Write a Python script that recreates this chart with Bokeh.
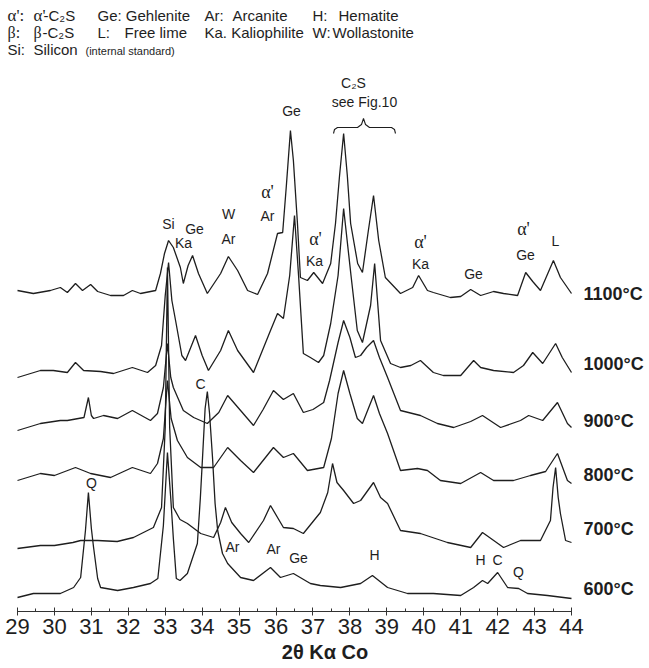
from bokeh.plotting import figure
from bokeh.models import Range1d, Label, SingleIntervalTicker
from bokeh.embed import file_html
from bokeh.resources import INLINE

# ---------------- data ----------------
temperatures = ["1100°C", "1000°C", "900°C", "800°C", "700°C", "600°C"]
offsets = [316, 236, 184, 128, 64, 13]   # vertical stacking offsets (a.u.)

two_theta_1100 = [29.00, 29.43, 29.89, 30.16, 30.35, 30.57, 30.76, 30.98, 31.17, 31.52,
                  31.87, 32.11, 32.33, 32.74, 32.87, 32.98, 33.09, 33.22, 33.41, 33.49,
                  33.62, 33.74, 33.90, 34.14, 34.50, 34.71, 34.96, 35.23, 35.50, 35.77,
                  36.04, 36.18, 36.28, 36.39, 36.47, 36.58, 36.66, 36.85, 37.02, 37.26,
                  37.48, 37.61, 37.72, 37.83, 37.93, 38.02, 38.21, 38.34, 38.50, 38.64,
                  38.78, 38.96, 39.37, 39.70, 39.86, 40.10, 40.26, 40.72, 41.00, 41.27,
                  41.54, 41.89, 42.16, 42.54, 42.76, 42.95, 43.16, 43.51, 43.70, 44.00]
counts_1100 = [5, 2, 5, 8, 3, 12, 5, 11, 4, 0,
               0, 5, 2, 5, 22, 42, 55, 48, 28, 12,
               30, 40, 22, 2, 22, 39, 25, 5, 1, 22,
               62, 63, 110, 165, 135, 72, 18, 15, 23, 12,
               32, 72, 120, 162, 120, 72, 32, 23, 65, 100,
               55, 18, 2, 8, 20, 5, 3, -2, -1, 6,
               0, 4, 2, 0, 23, 14, 5, 35, 18, 2]

two_theta_1000 = [29.00, 29.62, 29.97, 30.35, 30.57, 30.79, 31.25, 31.60, 32.11, 32.52,
                  32.74, 32.90, 33.00, 33.09, 33.18, 33.28, 33.45, 33.55, 33.82, 34.00,
                  34.17, 34.50, 34.71, 34.96, 35.39, 35.85, 36.04, 36.20, 36.37, 36.50,
                  36.61, 36.74, 36.93, 37.15, 37.29, 37.48, 37.68, 37.83, 38.03, 38.20,
                  38.34, 38.56, 38.67, 38.83, 39.10, 39.37, 39.65, 39.91, 40.26, 40.53,
                  41.00, 41.35, 41.54, 41.89, 42.43, 42.70, 42.95, 43.22, 43.57, 43.75,
                  44.00]
counts_1000 = [-2, 5, 5, 3, 13, 5, 4, 2, 8, 3,
               10, 30, 80, 113, 75, 55, 20, 15, 40, 20,
               5, 25, 45, 25, 3, 45, 62, 57, 100, 160,
               100, 22, 18, 13, 20, 52, 100, 167, 100, 45,
               33, 70, 112, 35, 12, 8, 10, 15, 3, 0,
               0, 15, 8, 5, 3, 10, 23, 12, 32, 18,
               3]

two_theta_900 = [29.00, 29.62, 30.16, 30.35, 30.80, 30.92, 31.00, 31.06, 31.33, 31.71,
                 32.11, 32.60, 32.79, 32.95, 33.06, 33.15, 33.22, 33.49, 33.77, 34.14,
                 34.45, 34.69, 35.04, 35.39, 35.65, 35.93, 36.20, 36.47, 36.74, 37.00,
                 37.29, 37.45, 37.68, 37.83, 38.00, 38.15, 38.29, 38.45, 38.64, 38.80,
                 39.02, 39.37, 39.91, 40.37, 40.81, 41.27, 41.59, 42.08, 42.62, 42.84,
                 43.22, 43.62, 43.89, 44.00]
counts_900 = [-3, 4, 7, 7, 10, 30, 12, 9, 12, 9,
              17, 7, 14, 40, 84, 50, 40, 17, 10, 4,
              15, 32, 17, 2, 18, 37, 28, 34, 15, 18,
              25, 47, 85, 107, 90, 70, 72, 80, 87, 70,
              50, 17, 12, 4, 0, 6, 12, 0, 7, 12,
              7, 25, 4, 0]

two_theta_800 = [29.00, 29.62, 30.00, 30.57, 30.98, 31.52, 32.11, 32.60, 32.79, 32.95,
                 33.06, 33.16, 33.33, 33.60, 33.96, 34.31, 34.69, 35.04, 35.39, 35.93,
                 36.20, 36.47, 36.85, 37.29, 37.50, 37.68, 37.83, 38.00, 38.20, 38.34,
                 38.50, 38.64, 38.80, 39.02, 39.37, 39.83, 40.10, 40.45, 41.00, 41.54,
                 41.89, 42.43, 42.89, 43.30, 43.62, 43.89, 44.00]
counts_800 = [3, 10, 8, 16, 10, 6, 16, 10, 20, 45,
              103, 65, 43, 26, 16, 16, 36, 23, 11, 36,
              26, 30, 13, 16, 45, 90, 113, 90, 65, 60,
              75, 88, 70, 50, 13, 15, 13, 3, 0, 11,
              3, 3, 8, 12, 30, 3, 0]

two_theta_700 = [29.00, 29.62, 30.00, 30.50, 30.71, 31.17, 31.70, 32.14, 32.68, 32.90,
                 33.00, 33.06, 33.12, 33.22, 33.40, 33.60, 33.96, 34.31, 34.50, 34.63,
                 34.80, 35.04, 35.26, 35.66, 35.85, 36.20, 36.47, 36.74, 37.20, 37.40,
                 37.53, 37.65, 37.83, 38.10, 38.29, 38.64, 38.83, 39.02, 39.37, 39.91,
                 40.64, 41.27, 41.59, 42.16, 42.62, 43.16, 43.43, 43.50, 43.57, 43.64,
                 43.70, 43.84, 44.00]
counts_700 = [-1, 2, 2, 5, 7, 7, 6, 10, 20, 40,
              120, 280, 120, 40, 28, 24, 14, 10, 25, 40,
              25, 14, 5, 27, 42, 20, 19, 14, 35, 55,
              84, 65, 57, 44, 47, 65, 50, 44, 17, 14,
              5, 0, 15, 0, 7, 7, 27, 60, 80, 50,
              34, 7, 5]

two_theta_600 = [29.00, 29.43, 30.16, 30.52, 30.71, 30.84, 30.92, 31.00, 31.06, 31.17,
                 31.25, 31.71, 32.14, 32.60, 32.80, 32.95, 33.06, 33.15, 33.22, 33.30,
                 33.40, 33.60, 33.87, 33.95, 34.01, 34.08, 34.14, 34.20, 34.28, 34.35,
                 34.42, 34.55, 34.69, 35.04, 35.39, 35.85, 36.12, 36.47, 36.93, 37.20,
                 37.75, 38.29, 38.61, 39.02, 39.56, 40.26, 41.00, 41.35, 41.59, 41.73,
                 42.00, 42.27, 42.57, 42.81, 43.35, 44.00]
counts_600 = [1, 5, 5, 11, 21, 68, 106, 70, 51, 20,
              11, 8, 11, 15, 20, 73, 146, 100, 60, 20,
              18, 25, 55, 100, 141, 190, 207, 185, 141, 95,
              68, 45, 35, 21, 18, 31, 21, 25, 15, 13,
              11, 15, 23, 11, 5, 5, 3, 11, 18, 15,
              26, 11, 10, 5, 3, 0]

axis_bounds = (29, 44)
x_ticks_interval = 1

# ---------------- layout helpers (page pixel -> data coordinates) ----------------
PX_PER_DEG = 554 / 15.0
def dx(px):
    return 29 + (px - 17) / PX_PER_DEG

def dy(py):
    return 611 - py

# ---------------- figure ----------------
W, H = 649, 668
p = figure(width=W, height=H, x_range=Range1d(dx(0), dx(W)), y_range=Range1d(0, 611),
           output_backend="svg", toolbar_location=None, y_axis_type=None,
           min_border_left=0, min_border_right=0, min_border_top=0, min_border_bottom=57)
p.outline_line_color = None
p.grid.visible = False
p.background_fill_color = "white"
p.border_fill_color = "white"

LINE = "#1e1e1e"
patterns = [(two_theta_1100, counts_1100), (two_theta_1000, counts_1000),
            (two_theta_900, counts_900), (two_theta_800, counts_800),
            (two_theta_700, counts_700), (two_theta_600, counts_600)]
for (tt, cc), off in zip(patterns, offsets):
    p.line(tt, [c + off for c in cc], line_color=LINE, line_width=1.3)

# axis
ax = p.xaxis[0]
ax.bounds = axis_bounds
ax.ticker = SingleIntervalTicker(interval=x_ticks_interval, num_minor_ticks=2)
ax.major_tick_in = 4
ax.major_tick_out = 4
ax.minor_tick_in = 3
ax.minor_tick_out = 0
ax.axis_line_color = "#333333"
ax.major_tick_line_color = "#333333"
ax.minor_tick_line_color = "#333333"
ax.major_label_text_font = "Liberation Sans"
ax.major_label_text_font_size = "22px"
ax.major_label_text_line_height = 0.9
ax.major_label_text_color = "#1e1e1e"
ax.major_label_standoff = 3
ax.axis_label = "2θ Kα Co"
ax.axis_label_text_font = "Liberation Sans"
ax.axis_label_text_font_size = "20px"
ax.axis_label_text_line_height = 0.9
ax.axis_label_text_font_style = "bold"
ax.axis_label_text_color = "#1e1e1e"
ax.axis_label_standoff = 4

def lbl(text, px, py, size="14px", font="Liberation Sans", align="center", style="normal"):
    p.add_layout(Label(x=dx(px), y=dy(py), text=text, text_align=align,
                       text_baseline="middle", text_font_size=size, text_font=font,
                       text_font_style=style, text_color="#1e1e1e"))

SERIF = "Liberation Serif"

# peak annotations
peak_labels = [
    ("Si", 168, 223), ("Ka", 183, 242), ("Ge", 194, 228), ("W", 228, 213), ("Ar", 228, 238),
    ("Ar", 267, 215), ("Ge", 291, 110), ("Ka", 314, 260), ("Ka", 420, 263), ("Ge", 473, 273),
    ("Ge", 525, 254), ("L", 555, 240), ("C", 200, 383), ("Q", 91, 482),
    ("Ar", 232, 546), ("Ar", 273, 548), ("Ge", 298, 557), ("H", 374, 554),
    ("H", 480, 559), ("C", 497, 559), ("Q", 518, 571),
    ("C₂S", 353, 82), ("see Fig.10", 364, 101),
]
for t, x, y in peak_labels:
    lbl(t, x, y)
for x, y in [(267, 191), (315, 238), (420, 241), (523, 228)]:
    lbl("α'", x, y, size="18px", font=SERIF)

# brace over C2S peaks
bx = [333, 334, 337, 357, 361, 363, 365, 369, 391, 394, 395]
by = [133, 129, 127, 127, 124, 118, 124, 127, 127, 129, 133]
p.line([dx(v) for v in bx], [dy(v) for v in by], line_color=LINE, line_width=1.1)

# temperature labels
temp_y = [293, 363, 420, 474, 528, 588]
for t, y in zip(temperatures, temp_y):
    lbl(t, 583, y, size="18px", align="left", style="bold")

# legend text at top
LS = "15px"
R1, R2, R3 = 15, 32, 49
lbl("α':", 7, R1, size="17px", font=SERIF, align="left")
lbl("α'", 33, R1, size="17px", font=SERIF, align="left")
lbl("-C₂S", 43, R1, size=LS, align="left")
lbl("Ge: Gehlenite", 97, R1, size=LS, align="left")
lbl("Ar:", 204, R1, size=LS, align="left")
lbl("Arcanite", 232, R1, size=LS, align="left")
lbl("H:", 312, R1, size=LS, align="left")
lbl("Hematite", 338, R1, size=LS, align="left")
lbl("β:", 7, R2, size="16px", font=SERIF, align="left")
lbl("β", 33, R2, size="16px", font=SERIF, align="left")
lbl("-C₂S", 42, R2, size=LS, align="left")
lbl("L:", 97, R2, size=LS, align="left")
lbl("Free lime", 124, R2, size=LS, align="left")
lbl("Ka. Kaliophilite", 204, R2, size=LS, align="left")
lbl("W:", 312, R2, size=LS, align="left")
lbl("Wollastonite", 332, R2, size=LS, align="left")
lbl("Si:", 7, R3, size=LS, align="left")
lbl("Silicon", 33, R3, size=LS, align="left")
lbl("(internal standard)", 85, R3 + 1, size="11px", align="left")

open("out.html", "w").write(file_html(p, INLINE))
